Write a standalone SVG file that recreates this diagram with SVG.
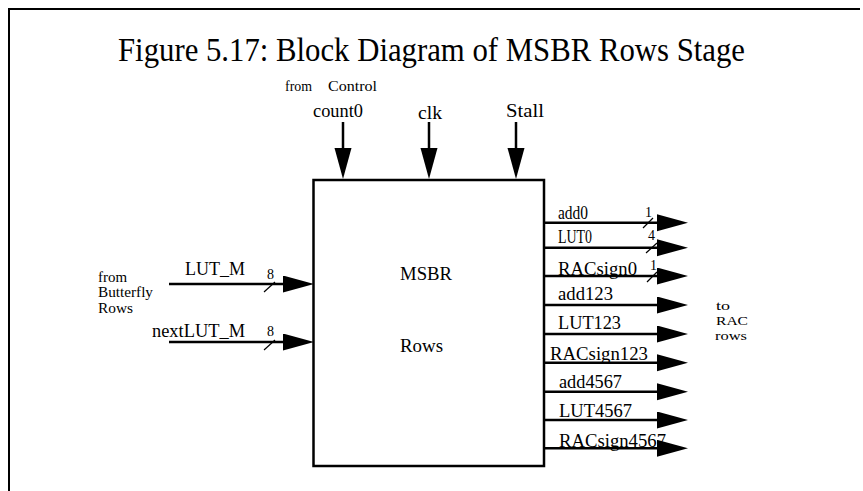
<svg xmlns="http://www.w3.org/2000/svg" width="863" height="491" viewBox="0 0 863 491">
<style>
  text { font-family: "Liberation Serif", "Times New Roman", serif; fill: #000; }
  .title { font-size: 34px; }
  .lbl { font-size: 18px; }
  .out { font-size: 19px; }
  .note { font-size: 14.5px; }
  .rac { font-size: 13.5px; }
  .num { font-size: 14px; }
  .wire { stroke: #000; stroke-width: 2.5; fill: none; marker-end: url(#arr); }
  .slash { stroke: #000; stroke-width: 1.2; }
  .box { fill: #fff; stroke: #000; stroke-width: 2.5; }
  .frame { fill: none; stroke: #000; stroke-width: 2; }
</style>
<defs>
  <marker id="arr" markerUnits="userSpaceOnUse" markerWidth="32" markerHeight="18" refX="6" refY="8.5" orient="auto" viewBox="0 0 32 18">
    <path d="M0,0 L31,8.5 L0,17 Z" fill="#000"/>
  </marker>
</defs>
<rect width="863" height="491" fill="#fff"/>
<path class="frame" d="M9,491 L9,9 L860,9"/>
<text class="title" x="118" y="61" textLength="627" lengthAdjust="spacingAndGlyphs">Figure 5.17: Block Diagram of MSBR Rows Stage</text>

<g id="block">
  <rect class="box" x="313.5" y="180" width="230.5" height="286"/>
  <text class="lbl" x="400" y="280" textLength="52" lengthAdjust="spacingAndGlyphs">MSBR</text>
  <text class="lbl" x="400" y="352" textLength="43" lengthAdjust="spacingAndGlyphs">Rows</text>
</g>

<g id="control-label">
  <text class="note" x="285" y="91" textLength="27" lengthAdjust="spacingAndGlyphs">from</text>
  <text class="note" x="328" y="91" textLength="49" lengthAdjust="spacingAndGlyphs">Control</text>
</g>
<g id="in-count0"><text class="lbl" x="313" y="117" textLength="50" lengthAdjust="spacingAndGlyphs">count0</text></g>
<g id="in-clk"><text class="lbl" x="418" y="119" textLength="24" lengthAdjust="spacingAndGlyphs">clk</text></g>
<g id="in-stall"><text class="lbl" x="506" y="117" textLength="38" lengthAdjust="spacingAndGlyphs">Stall</text></g>

<g id="butterfly-label">
  <text class="note" x="98" y="282" textLength="29" lengthAdjust="spacingAndGlyphs">from</text>
  <text class="note" x="98" y="297" textLength="55" lengthAdjust="spacingAndGlyphs">Butterfly</text>
  <text class="note" x="98" y="313" textLength="35" lengthAdjust="spacingAndGlyphs">Rows</text>
</g>
<g id="in-lutm">
  <text class="lbl" x="185" y="275" textLength="60" lengthAdjust="spacingAndGlyphs">LUT_M</text>
  <text class="num" x="267" y="279">8</text>
</g>
<g id="in-nextlutm">
  <text class="lbl" x="152" y="337" textLength="93" lengthAdjust="spacingAndGlyphs">nextLUT_M</text>
  <text class="num" x="267" y="336">8</text>
</g>

<g id="rac-label">
  <text class="rac" x="716" y="310" textLength="14" lengthAdjust="spacingAndGlyphs">to</text>
  <text class="rac" x="716" y="325" textLength="32" lengthAdjust="spacingAndGlyphs">RAC</text>
  <text class="rac" x="715" y="340" textLength="32" lengthAdjust="spacingAndGlyphs">rows</text>
</g>
<g id="out-add0">
  <text class="out" x="558" y="219" textLength="30" lengthAdjust="spacingAndGlyphs">add0</text>
  <text class="num" x="645" y="217">1</text>
</g>
<g id="out-lut0">
  <text class="out" x="558" y="243" textLength="34" lengthAdjust="spacingAndGlyphs">LUT0</text>
  <text class="num" x="648" y="240">4</text>
</g>
<g id="out-racsign0">
  <text class="out" x="558" y="275" textLength="79" lengthAdjust="spacingAndGlyphs">RACsign0</text>
  <text class="num" x="650" y="270">1</text>
</g>
<g id="out-add123"><text class="out" x="558" y="300" textLength="55" lengthAdjust="spacingAndGlyphs">add123</text></g>
<g id="out-lut123"><text class="out" x="558" y="329" textLength="63" lengthAdjust="spacingAndGlyphs">LUT123</text></g>
<g id="out-racsign123"><text class="out" x="550" y="360" textLength="98" lengthAdjust="spacingAndGlyphs">RACsign123</text></g>
<g id="out-add4567"><text class="out" x="559" y="388" textLength="63" lengthAdjust="spacingAndGlyphs">add4567</text></g>
<g id="out-lut4567"><text class="out" x="559" y="417" textLength="73" lengthAdjust="spacingAndGlyphs">LUT4567</text></g>
<g id="out-racsign4567"><text class="out" x="559" y="447" textLength="107" lengthAdjust="spacingAndGlyphs">RACsign4567</text></g>

<g id="connectors">
  <line class="wire" x1="343" y1="122" x2="343" y2="154"/>
  <line class="wire" x1="429" y1="122" x2="429" y2="154"/>
  <line class="wire" x1="516" y1="122" x2="516" y2="154"/>
  <line class="wire" x1="169" y1="284" x2="289" y2="284"/>
  <line class="wire" x1="169" y1="342" x2="289" y2="342"/>
  <line class="slash" x1="264" y1="292" x2="275" y2="282"/>
  <line class="slash" x1="264" y1="350" x2="275" y2="340"/>
  <line class="wire" x1="544" y1="222.7" x2="663" y2="222.7"/>
  <line class="wire" x1="544" y1="247.7" x2="663" y2="247.7"/>
  <line class="wire" x1="544" y1="276" x2="663" y2="276"/>
  <line class="wire" x1="544" y1="305" x2="663" y2="305"/>
  <line class="wire" x1="544" y1="334" x2="663" y2="334"/>
  <line class="wire" x1="544" y1="362.7" x2="663" y2="362.7"/>
  <line class="wire" x1="544" y1="391.7" x2="663" y2="391.7"/>
  <line class="wire" x1="544" y1="420" x2="663" y2="420"/>
  <line class="wire" x1="544" y1="448.3" x2="663" y2="448.3"/>
  <line class="slash" x1="643" y1="228" x2="653" y2="218"/>
  <line class="slash" x1="646" y1="253" x2="657" y2="243"/>
  <line class="slash" x1="647" y1="282" x2="657" y2="272"/>
</g>
</svg>
